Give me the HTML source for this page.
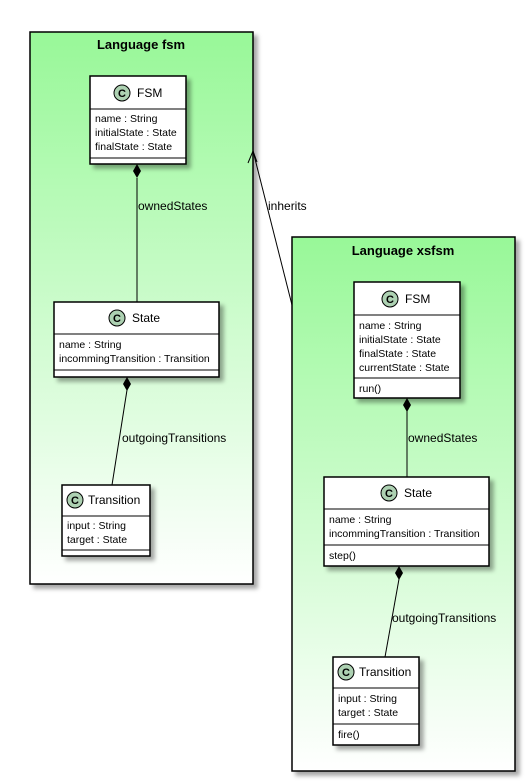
<!DOCTYPE html>
<html><head><style>body{margin:0;background:#fff}svg{display:block}text{font-family:"Liberation Sans",sans-serif}</style></head><body>
<svg width="525" height="781" xmlns="http://www.w3.org/2000/svg">
<defs>
<linearGradient id="g" x1="0" y1="0" x2="0" y2="1"><stop offset="0" stop-color="#98F898"/><stop offset="1" stop-color="#ffffff"/></linearGradient>
<filter id="s" x="-10%" y="-10%" width="130%" height="130%"><feDropShadow dx="4" dy="4" stdDeviation="2" flood-color="#000" flood-opacity="0.35"/></filter>
</defs>
<rect x="30" y="32" width="223" height="552" fill="url(#g)" stroke="#000" stroke-width="1.5" filter="url(#s)"/>
<text x="141" y="49" font-size="13" font-weight="bold" text-anchor="middle">Language fsm</text>
<rect x="292" y="237" width="223" height="534" fill="url(#g)" stroke="#000" stroke-width="1.5" filter="url(#s)"/>
<text x="403" y="255" font-size="13" font-weight="bold" text-anchor="middle">Language xsfsm</text>

<g stroke="#000" fill="none">
<line x1="137" y1="178" x2="137" y2="302"/>
<line x1="127" y1="390" x2="112" y2="485"/>
<line x1="407" y1="411" x2="407" y2="477"/>
<line x1="399" y1="579" x2="385" y2="657"/>
<line x1="292" y1="305" x2="253" y2="151"/>
<polyline points="248,163 253,151 257,162"/>
</g>
<g fill="#000">
<polygon points="137,164 141,171 137,178 133,171"/>
<polygon points="127,377 131,384 127,391 123,384"/>
<polygon points="407,398 411,405 407,412 403,405"/>
<polygon points="399,566 403,573 399,580 395,573"/>
</g>
<g font-size="12">
<text x="138" y="210">ownedStates</text>
<text x="122" y="442">outgoingTransitions</text>
<text x="408" y="442">ownedStates</text>
<text x="392" y="622">outgoingTransitions</text>
<text x="268" y="210">inherits</text>
</g>

<g font-size="10.5">
<!-- fsm FSM -->
<rect x="90" y="76" width="96" height="88" fill="#fff" stroke="#000" stroke-width="1.5" filter="url(#s)"/>
<line x1="90" y1="109" x2="186" y2="109" stroke="#000"/><line x1="90" y1="158" x2="186" y2="158" stroke="#000"/>
<circle cx="122" cy="93" r="8" fill="#ADD1B2" stroke="#000"/><text x="122" y="97" font-size="11" font-weight="bold" text-anchor="middle">C</text>
<text x="137" y="97" font-size="12">FSM</text>
<text x="95" y="122">name : String</text><text x="95" y="136">initialState : State</text><text x="95" y="150">finalState : State</text>
<!-- fsm State -->
<rect x="54" y="302" width="165" height="75" fill="#fff" stroke="#000" stroke-width="1.5" filter="url(#s)"/>
<line x1="54" y1="334" x2="219" y2="334" stroke="#000"/><line x1="54" y1="370" x2="219" y2="370" stroke="#000"/>
<circle cx="117" cy="318" r="8" fill="#ADD1B2" stroke="#000"/><text x="117" y="322" font-size="11" font-weight="bold" text-anchor="middle">C</text>
<text x="132" y="322" font-size="12">State</text>
<text x="59" y="348">name : String</text><text x="59" y="362">incommingTransition : Transition</text>
<!-- fsm Transition -->
<rect x="62" y="485" width="88" height="71" fill="#fff" stroke="#000" stroke-width="1.5" filter="url(#s)"/>
<line x1="62" y1="516" x2="150" y2="516" stroke="#000"/><line x1="62" y1="550" x2="150" y2="550" stroke="#000"/>
<circle cx="75" cy="500" r="8" fill="#ADD1B2" stroke="#000"/><text x="75" y="504" font-size="11" font-weight="bold" text-anchor="middle">C</text>
<text x="88" y="504" font-size="12">Transition</text>
<text x="67" y="529">input : String</text><text x="67" y="543">target : State</text>
<!-- xsfsm FSM -->
<rect x="354" y="282" width="106" height="116" fill="#fff" stroke="#000" stroke-width="1.5" filter="url(#s)"/>
<line x1="354" y1="315" x2="460" y2="315" stroke="#000"/><line x1="354" y1="378" x2="460" y2="378" stroke="#000"/>
<circle cx="390" cy="299" r="8" fill="#ADD1B2" stroke="#000"/><text x="390" y="303" font-size="11" font-weight="bold" text-anchor="middle">C</text>
<text x="405" y="303" font-size="12">FSM</text>
<text x="359" y="329">name : String</text><text x="359" y="343">initialState : State</text><text x="359" y="357">finalState : State</text><text x="359" y="371">currentState : State</text>
<text x="359" y="392">run()</text>
<!-- xsfsm State -->
<rect x="324" y="477" width="165" height="89" fill="#fff" stroke="#000" stroke-width="1.5" filter="url(#s)"/>
<line x1="324" y1="509" x2="489" y2="509" stroke="#000"/><line x1="324" y1="545" x2="489" y2="545" stroke="#000"/>
<circle cx="389" cy="493" r="8" fill="#ADD1B2" stroke="#000"/><text x="389" y="497" font-size="11" font-weight="bold" text-anchor="middle">C</text>
<text x="404" y="497" font-size="12">State</text>
<text x="329" y="523">name : String</text><text x="329" y="537">incommingTransition : Transition</text>
<text x="329" y="559">step()</text>
<!-- xsfsm Transition -->
<rect x="333" y="657" width="86" height="88" fill="#fff" stroke="#000" stroke-width="1.5" filter="url(#s)"/>
<line x1="333" y1="688" x2="419" y2="688" stroke="#000"/><line x1="333" y1="724" x2="419" y2="724" stroke="#000"/>
<circle cx="346" cy="672" r="8" fill="#ADD1B2" stroke="#000"/><text x="346" y="676" font-size="11" font-weight="bold" text-anchor="middle">C</text>
<text x="359" y="676" font-size="12">Transition</text>
<text x="338" y="702">input : String</text><text x="338" y="716">target : State</text>
<text x="338" y="738">fire()</text>
</g>
</svg>
</body></html>
